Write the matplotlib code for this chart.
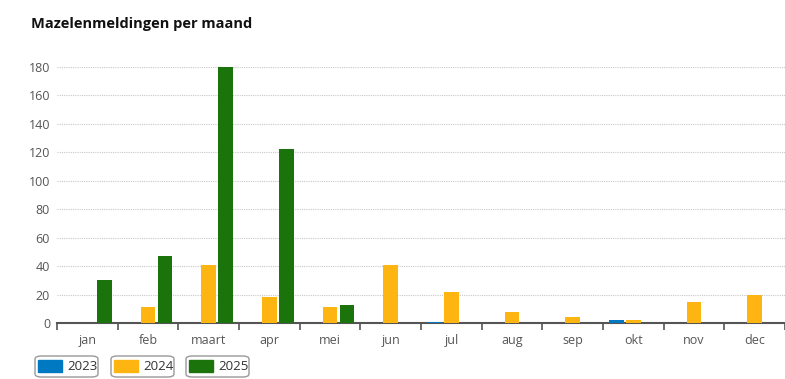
import numpy as np
import matplotlib.pyplot as plt
from matplotlib.patches import FancyBboxPatch, Rectangle

plt.rcParams['font.family'] = ['Open Sans', 'DejaVu Sans']

# Maandlabels en meldingen per jaar
maanden = ['jan', 'feb', 'maart', 'apr', 'mei', 'jun',
           'jul', 'aug', 'sep', 'okt', 'nov', 'dec']
meldingen_2023 = [0, 0, 0, 0, 0, 0, 1, 0, 0, 2, 0, 0]
meldingen_2024 = [0, 11, 41, 18, 11, 41, 22, 8, 4, 2, 15, 20]
meldingen_2025 = [30, 47, 180, 122, 13, 0, 0, 0, 0, 0, 0, 0]

jaren = ['2023', '2024', '2025']
kleuren = ['#0079c2', '#ffb511', '#1a730b']

W, H = 785, 379
fig = plt.figure(figsize=(W / 100, H / 100), dpi=100)
ax = fig.add_axes([57 / W, 56 / H, 728 / W, (323 - 67) / H])

x = np.arange(len(maanden))
breedte = 0.245
stap = 0.28
for i, (vals, kleur) in enumerate(zip([meldingen_2023, meldingen_2024, meldingen_2025], kleuren)):
    ax.bar(x + (i - 1) * stap, vals, width=breedte, color=kleur, zorder=3)

ax.set_xlim(-0.5, len(maanden) - 0.5)
ax.set_ylim(0, 180)
ax.set_yticks(range(0, 181, 20))
ax.tick_params(axis='y', length=0, labelsize=9, labelcolor='#555555', pad=5)
ax.grid(axis='y', color='#c8c8c8', linestyle=(0, (1, 1)), linewidth=0.8, zorder=0)

# Maandlabels in het midden, streepjes op de grenzen
ax.set_xticks(x)
ax.set_xticklabels(maanden)
ax.tick_params(axis='x', length=0, labelsize=9, labelcolor='#555555', pad=8)
ax.set_xticks(np.arange(-0.5, len(maanden), 1), minor=True)
ax.tick_params(axis='x', which='minor', length=5, width=1.2, color='#555555')

for s in ['left', 'right', 'top']:
    ax.spines[s].set_visible(False)
ax.spines['bottom'].set_color('#555555')
ax.spines['bottom'].set_linewidth(1.5)
ax.spines['bottom'].set_zorder(2.5)

fig.text(31 / W, 1 - 24 / H, 'Mazelenmeldingen per maand', fontsize=10.5,
         fontweight='bold', va='center', ha='left', color='#111111')

# Drie losse legendavakjes
posities = [35, 111, 186]
for jaar, kleur, px in zip(jaren, kleuren, posities):
    box = FancyBboxPatch((px / W, (H - 377) / H), 63 / W, 21 / H,
                         boxstyle='round,pad=0,rounding_size=0.008',
                         transform=fig.transFigure, facecolor='white',
                         edgecolor='#999999', linewidth=1.0)
    fig.patches.append(box)
    fig.patches.append(Rectangle(((px + 3) / W, (H - 372) / H), 24 / W, 12 / H,
                                 transform=fig.transFigure, color=kleur))
    fig.text((px + 32) / W, (H - 366.5) / H, jaar, fontsize=9.5,
             color='#333333', va='center', ha='left')

fig.savefig('out.png', dpi=100)
